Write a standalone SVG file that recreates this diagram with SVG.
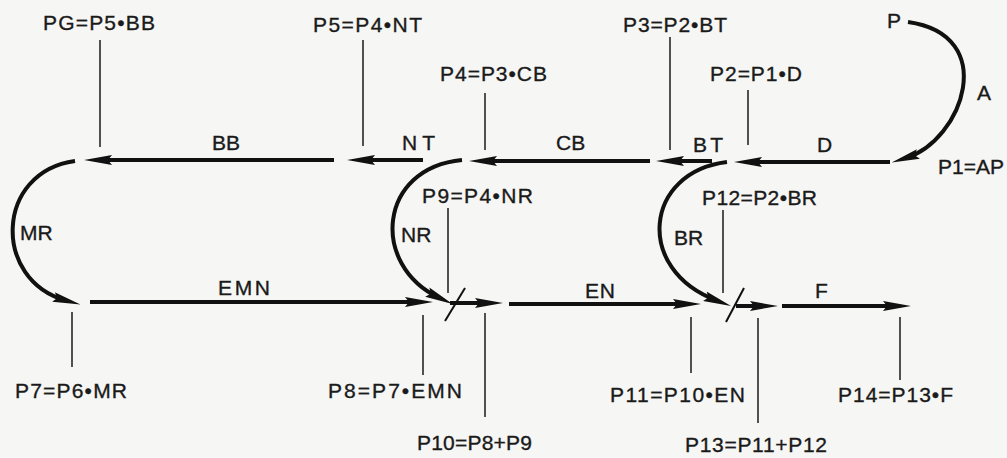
<svg xmlns="http://www.w3.org/2000/svg" width="1007" height="458" viewBox="0 0 1007 458">
<style>
text{font-family:"Liberation Sans",Arial,sans-serif;font-size:21px;fill:#1a1a1a;stroke:#1a1a1a;stroke-width:0.35}
.lead{stroke:#1a1a1a;stroke-width:1.5;fill:none}
.flow{stroke:#111;stroke-width:4;fill:none;marker-end:url(#ah)}
.slash{stroke:#111;stroke-width:2;fill:none}
</style>
<defs>
<marker id="ah" markerUnits="userSpaceOnUse" markerWidth="28" markerHeight="12" viewBox="0 0 28 12" refX="13" refY="6" orient="auto">
<path d="M0,1 L28,6 L0,11 L4,6 z" fill="#111"/>
</marker>
</defs>
<rect width="1007" height="458" fill="#f6f6f4"/>
<g id="connectors">
<path class="flow" d="M908,22 C1000,35 963,140 906,158"/>
<path class="flow" d="M890,162 L749,162"/>
<path class="flow" d="M712,161 L671,161"/>
<path class="flow" d="M650,161 L484,161"/>
<path class="flow" d="M423,160 L362,160"/>
<path class="flow" d="M334,160 L99,160"/>
<path class="flow" d="M75,161 C-5,172 -8,280 66,300.5"/>
<path class="flow" d="M90,302 L418,302"/>
<path class="flow" d="M462,160 C378,168 370,265 439,297.7"/>
<path class="flow" d="M450,303 L488,303"/>
<path class="flow" d="M509,304 L686,304"/>
<path class="flow" d="M727,162 C644,172 634,270 717,300.7"/>
<path class="flow" d="M736,306 L763,306"/>
<path class="flow" d="M782,306 L896,306"/>
<path class="slash" d="M445,321 L465,288"/>
<path class="slash" d="M726,322 L744,288"/>
</g>
<g id="node-P"><text x="887" y="28">P</text><text x="977" y="100">A</text></g>
<g id="node-P1"><text x="938" y="174" textLength="66" lengthAdjust="spacing">P1=AP</text></g>
<g id="node-P2"><line class="lead" x1="748" y1="90" x2="748" y2="145"/><text x="710" y="81" textLength="92" lengthAdjust="spacing">P2=P1•D</text><text x="817" y="152">D</text></g>
<g id="node-P3"><line class="lead" x1="670" y1="37" x2="670" y2="150"/><text x="623" y="32" textLength="104" lengthAdjust="spacing">P3=P2•BT</text><text x="693" y="152" textLength="30" lengthAdjust="spacing">BT</text></g>
<g id="node-P4"><line class="lead" x1="485" y1="93" x2="485" y2="150"/><text x="440" y="81" textLength="107" lengthAdjust="spacing">P4=P3•CB</text><text x="556" y="150">CB</text></g>
<g id="node-P5"><line class="lead" x1="363" y1="40" x2="363" y2="146"/><text x="313" y="32" textLength="109" lengthAdjust="spacing">P5=P4•NT</text><text x="402" y="150" textLength="33" lengthAdjust="spacing">NT</text></g>
<g id="node-PG"><line class="lead" x1="100" y1="40" x2="100" y2="147"/><text x="43" y="30" textLength="112" lengthAdjust="spacing">PG=P5•BB</text><text x="212" y="150">BB</text></g>
<g id="node-P7"><line class="lead" x1="72" y1="312" x2="72" y2="367"/><text x="15" y="398" textLength="112" lengthAdjust="spacing">P7=P6•MR</text><text x="20" y="240">MR</text></g>
<g id="node-P8"><line class="lead" x1="423" y1="315" x2="423" y2="375"/><text x="328" y="398" textLength="134" lengthAdjust="spacing">P8=P7•EMN</text><text x="218" y="295" textLength="52" lengthAdjust="spacing">EMN</text></g>
<g id="node-P9"><line class="lead" x1="448" y1="208" x2="448" y2="293"/><text x="422" y="203" textLength="111" lengthAdjust="spacing">P9=P4•NR</text><text x="401" y="242">NR</text></g>
<g id="node-P10"><line class="lead" x1="485" y1="313" x2="485" y2="417"/><text x="417" y="450" textLength="115" lengthAdjust="spacing">P10=P8+P9</text></g>
<g id="node-P11"><line class="lead" x1="691" y1="317" x2="691" y2="373"/><text x="610" y="402" textLength="135" lengthAdjust="spacing">P11=P10•EN</text><text x="585" y="298" textLength="30" lengthAdjust="spacing">EN</text></g>
<g id="node-P12"><line class="lead" x1="723" y1="210" x2="723" y2="293"/><text x="702" y="205" textLength="115" lengthAdjust="spacing">P12=P2•BR</text><text x="674" y="245">BR</text></g>
<g id="node-P13"><line class="lead" x1="758" y1="318" x2="758" y2="423"/><text x="685" y="452" textLength="142" lengthAdjust="spacing">P13=P11+P12</text></g>
<g id="node-P14"><line class="lead" x1="900" y1="317" x2="900" y2="380"/><text x="838" y="402" textLength="115" lengthAdjust="spacing">P14=P13•F</text><text x="815" y="298">F</text></g>
</svg>
